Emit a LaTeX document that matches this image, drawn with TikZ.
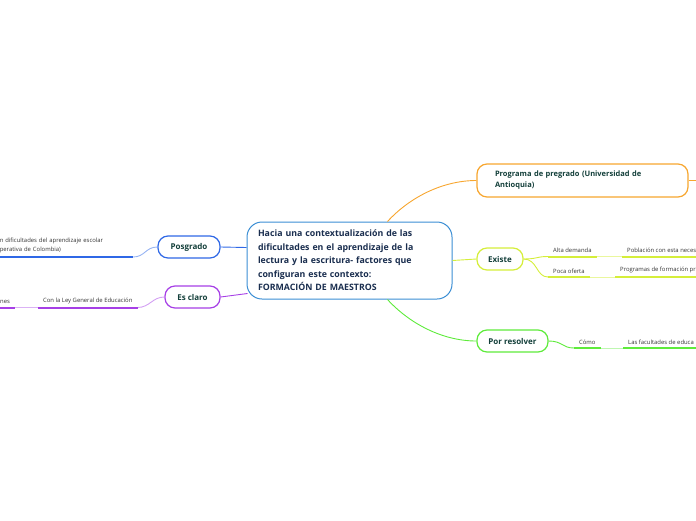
\documentclass[tikz,border=0pt]{standalone}
\usepackage{fontspec}
\setmainfont{Open Sans}
\definecolor{cblue}{HTML}{3B8ED4}
\definecolor{corange}{HTML}{F7A62F}
\definecolor{cyg}{HTML}{D5EE3A}
\definecolor{cgreen}{HTML}{5EEB3B}
\definecolor{cpblue}{HTML}{2F68E6}
\definecolor{cpurple}{HTML}{A63FE6}
\definecolor{ctext}{HTML}{133F3A}
\definecolor{cnavy}{HTML}{1A2E4F}
\definecolor{cleaf}{HTML}{353535}
\begin{document}
\begin{tikzpicture}[x=1pt,y=-1pt,
  topic/.style={draw, line width=1.2pt, rounded corners=10pt, fill=white, text=ctext,
    font=\fontsize{8}{10}\selectfont\bfseries, inner sep=0pt, minimum height=22pt},
  leaf/.style={inner xsep=5pt, inner ysep=3.5pt, text=cleaf, font=\fontsize{5.9}{9}\selectfont, anchor=south west},
  conn/.style={line width=0.9pt},
  uline/.style={line width=2pt}
]
\useasboundingbox (0,0) rectangle (696,520);
\clip (0,0) rectangle (696,520);

% central
\node[draw=cblue, line width=1pt, rounded corners=15pt, fill=white, minimum width=205pt, minimum height=77pt,
  text width=183pt, align=left, inner xsep=11pt, text=cnavy, font=\fontsize{8.8}{13.5}\selectfont\bfseries]
  (central) at (349.5,260.5) {Hacia una contextualización de las\\dificultades en el aprendizaje de la\\lectura y la escritura- factores que\\configuran este contexto:\\FORMACIÓN DE MAESTROS};

% topics
\node[topic, draw=corange, minimum width=211pt, minimum height=33pt, text width=175pt, align=left, inner xsep=18pt,
  font=\fontsize{7.5}{11}\selectfont\bfseries] (prog) at (582.5,180.5) {Programa de pregrado (Universidad de\\Antioquia)};
\coordinate (progend) at (705,180.5);
\node[topic, draw=cyg, minimum width=46pt] (existe) at (500,259) {Existe};
\node[topic, draw=cgreen, minimum width=71pt] (porres) at (512.5,341) {Por resolver};
\node[topic, draw=cpblue, minimum width=62pt] (posgrado) at (189,247) {Posgrado};
\node[topic, draw=cpurple, minimum width=55pt] (esclaro) at (192.5,297) {Es claro};

% leaves
\node[leaf] (alta) at (548,256.5) {Alta demanda};
\node[leaf] (pob) at (622,256.5) {Población con esta neces};
\node[leaf] (poca) at (548,277) {Poca oferta};
\node[leaf] (progf) at (615,277) {Programas de formación pr};
\node[leaf] (como) at (574,348) {Cómo};
\node[leaf] (facu) at (623,348) {Las facultades de educa};
\node[leaf, anchor=south east, text width=128pt, align=left] (posleaf) at (133,257)
  {n dificultades del aprendizaje escolar\\perativa de Colombia)};
\node[leaf] (conley) at (38,307.5) {Con la Ley General de Educación};
\node[leaf] (nes) at (-5,307.5) {nes};

% main connectors
\draw[conn, corange] ([xshift=38pt]central.north) .. controls +(22,-24) and +(-34,0) .. (prog.west);
\draw[conn, corange] (prog.east) -- (progend);
\draw[conn, cyg] (central.east) .. controls +(12,0) and +(-12,0) .. (existe.west);
\draw[conn, cgreen] ([xshift=38pt]central.south) .. controls +(22,24) and +(-34,0) .. (porres.west);
\draw[conn, cpblue] ([yshift=13pt]central.west) -- (posgrado.east);
\draw[conn, cpurple] ([xshift=1pt,yshift=-33pt]central.west) -- (esclaro.east);

% sub connectors
\draw[conn, cyg] (existe.east) .. controls +(14,0) and +(-12,0) .. (alta.south west);
\draw[conn, cyg] (existe.east) .. controls +(14,0) and +(-12,0) .. (poca.south west);
\draw[conn, cgreen] (porres.east) .. controls +(14,0) and +(-12,0) .. (como.south west);
\draw[conn, cpblue!50] (posgrado.west) .. controls +(-12,0) and +(12,0) .. (posleaf.south east);
\draw[conn, cpurple!50] (esclaro.west) .. controls +(-12,0) and +(12,0) .. (conley.south east);

\draw[conn, cyg!50] (alta.south east) -- (pob.south west);
\draw[conn, cyg!50] (poca.south east) -- (progf.south west);
\draw[conn, cgreen!40] (como.south east) -- (facu.south west);
\draw[conn, cpurple!40] (conley.south west) -- (nes.south east);

% underlines
\foreach \n/\c in {alta/cyg, pob/cyg, poca/cyg, progf/cyg, como/cgreen, facu/cgreen, posleaf/cpblue, conley/cpurple, nes/cpurple}
  \draw[uline, \c] (\n.south west) -- (\n.south east);
\end{tikzpicture}
\end{document}
